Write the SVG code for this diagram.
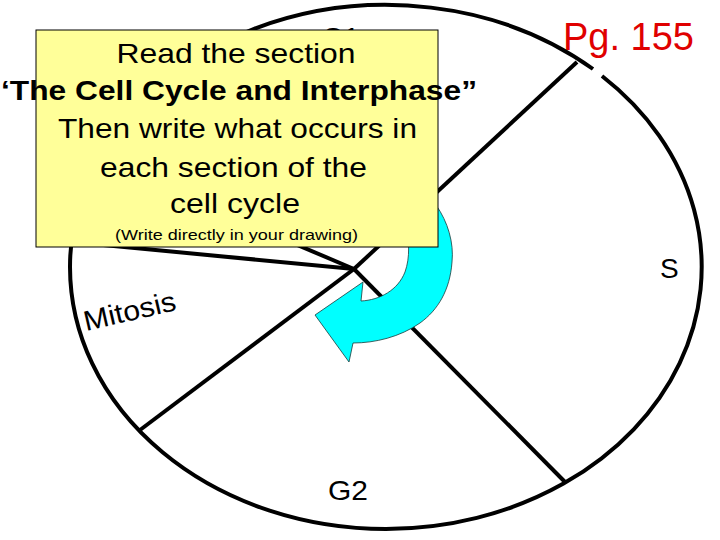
<svg xmlns="http://www.w3.org/2000/svg" width="720" height="540" viewBox="0 0 720 540">
<style>
.t{font-family:"Liberation Sans",Arial,sans-serif;fill:#000}
.ln{stroke:#000;stroke-width:4;fill:none;stroke-linecap:butt}
</style>
<rect width="720" height="540" fill="#fff"/>
<g id="labels">
<text class="t" x="322" y="47" font-size="28">G1</text>
</g>
<g id="title-pg">
<text x="563" y="50" font-family="Liberation Sans,Arial,sans-serif" font-size="38" fill="#E00000">Pg. 155</text>
</g>
<g id="connectors">
<path class="ln" d="M 602 76 A 316 262 0 0 1 386 529 A 316 262 0 0 1 70 267 A 316 262 0 0 1 593 69" stroke-width="5"/>
<line class="ln" x1="354" y1="269" x2="577" y2="62"/>
<line class="ln" x1="354" y1="269" x2="565" y2="482"/>
<line class="ln" x1="354" y1="269" x2="140" y2="430"/>
<line class="ln" x1="354" y1="269" x2="97" y2="160"/>
<line class="ln" x1="354" y1="269" x2="72" y2="242"/>
</g>
<g id="phase-s"><text class="t" x="660" y="278" font-size="28">S</text></g>
<g id="phase-g2"><text class="t" x="328" y="500" font-size="28" textLength="40" lengthAdjust="spacingAndGlyphs">G2</text></g>
<g id="phase-mitosis"><text class="t" x="0" y="0" font-size="28" textLength="94" lengthAdjust="spacingAndGlyphs" transform="translate(86,331) rotate(-13)">Mitosis</text></g>
<g id="cycle-arrow">
<path d="M 436 205 C 448 222, 454 243, 452 262 C 450 290, 438 310, 420 323 C 400 337, 375 343, 353 343 L 349 362 L 315 315 L 363 282 L 361 301 C 380 300, 398 290, 405 272 C 410 258, 410 240, 404 218 Z" fill="#00FFFF" stroke="#1a3a3a" stroke-width="0.8"/>
</g>
<g id="instruction-box">
<rect x="36" y="30" width="402" height="217" fill="#FFFF99" stroke="#000" stroke-width="1"/>
<text class="t" x="236" y="63" font-size="28" text-anchor="middle" textLength="239" lengthAdjust="spacingAndGlyphs">Read the section</text>
<text class="t" x="239" y="100" font-size="28" font-weight="bold" text-anchor="middle" textLength="476" lengthAdjust="spacingAndGlyphs">‘The Cell Cycle and Interphase”</text>
<text class="t" x="237.5" y="138" font-size="28" text-anchor="middle" textLength="359" lengthAdjust="spacingAndGlyphs">Then write what occurs in</text>
<text class="t" x="233.5" y="177" font-size="28" text-anchor="middle" textLength="267" lengthAdjust="spacingAndGlyphs">each section of the</text>
<text class="t" x="235" y="213" font-size="28" text-anchor="middle" textLength="130" lengthAdjust="spacingAndGlyphs">cell cycle</text>
<text class="t" x="236.5" y="240" font-size="15" text-anchor="middle" textLength="243" lengthAdjust="spacingAndGlyphs">(Write directly in your drawing)</text>
</g>
</svg>
